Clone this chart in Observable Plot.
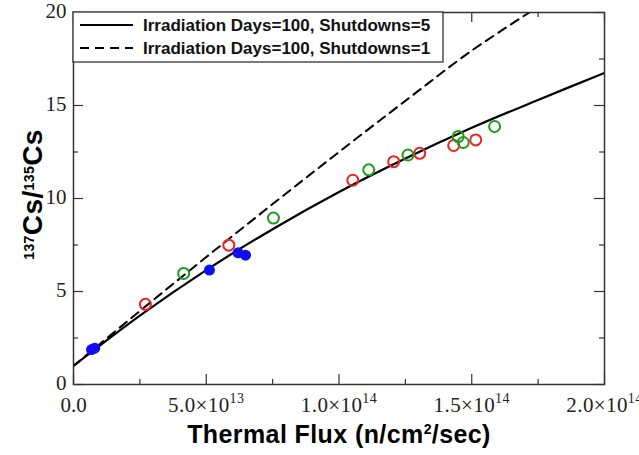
<!DOCTYPE html>
<html>
<head>
<meta charset="utf-8">
<script src="https://cdn.jsdelivr.net/npm/d3@7"></script>
<script src="https://cdn.jsdelivr.net/npm/@observablehq/plot@0.6"></script>
<style>
  html, body { margin: 0; padding: 0; background: #fff; }
  #chart { width: 639px; height: 455px; }
</style>
</head>
<body>
<div id="chart"></div>
<script>
// ---- Data ----
// Model curves (x in n/cm^2/sec, y = 137Cs/135Cs)
const solidX = [0, 2.5e13, 5e13, 7.5e13, 1e14, 1.25e14, 1.5e14, 1.75e14, 2e14];
const solidY = [1.0, 3.7, 6.15, 8.35, 10.35, 12.15, 13.8, 15.3, 16.75];
const dashX  = [0, 2.5e13, 5e13, 7.5e13, 1e14, 1.25e14, 1.5e14, 1.717e14];
const dashY  = [1.0, 3.95, 6.85, 9.7, 12.5, 15.25, 17.95, 20.0];

// Measured points
const blueX  = [6.8e12, 8.0e12, 5.12e13, 6.2e13, 6.48e13];
const blueY  = [1.88, 1.95, 6.15, 7.08, 6.95];
const redX   = [2.71e13, 5.85e13, 1.052e14, 1.206e14, 1.304e14, 1.432e14, 1.515e14];
const redY   = [4.31, 7.49, 10.98, 11.98, 12.43, 12.85, 13.15];
const greenX = [4.15e13, 7.53e13, 1.112e14, 1.26e14, 1.449e14, 1.468e14, 1.586e14];
const greenY = [5.97, 8.95, 11.54, 12.34, 13.33, 13.01, 13.87];

// Ticks and labels
const xMajor = [0, 5e13, 1e14, 1.5e14, 2e14];
const xMinor = [2.5e13, 7.5e13, 1.25e14, 1.75e14];
const xTickLabels = ["0.0", "5.0×10^13", "1.0×10^14", "1.5×10^14", "2.0×10^14"];
const yMajor = [0, 5, 10, 15, 20];
const yMinor = [2.5, 7.5, 12.5, 17.5];
const yTickLabels = ["0", "5", "10", "15", "20"];

const legendLabels = ["Irradiation Days=100, Shutdowns=5", "Irradiation Days=100, Shutdowns=1"];
const xTitle = "Thermal Flux (n/cm^2/sec)";
const yTitle = "^137Cs/^135Cs";

// ---- Build tables ----
const zip = (xs, ys) => xs.map((x, i) => ({x, y: ys[i]}));
const solid = zip(solidX, solidY);
const dashed = zip(dashX, dashY);
const blue = zip(blueX, blueY);
const red = zip(redX, redY);
const green = zip(greenX, greenY);
const xLab = xMajor.map((x, i) => ({x, t: xTickLabels[i]}));
const yLab = yMajor.map((y, i) => ({y, t: yTickLabels[i]}));

const serif = "Liberation Serif, Times New Roman, serif";
const sans = "Liberation Sans, Arial, Helvetica, sans-serif";
const axisCol = "#333";
const x0 = 0, x1 = 2e14, y0 = 0, y1 = 20;
const tickStyle = {stroke: axisCol, strokeWidth: 1.2};

const chart = Plot.plot({
  width: 639,
  height: 455,
  marginLeft: 73,
  marginRight: 35,
  marginTop: 12,
  marginBottom: 71,
  style: {background: "#fff", overflow: "visible"},
  x: {domain: [x0, x1], axis: null},
  y: {domain: [y0, y1], axis: null},
  marks: [
    // inward ticks on all four sides (zero-length rules extended by negative insets)
    Plot.ruleX(xMajor, {x: d => d, y1: y0, y2: y0, insetTop: -10, ...tickStyle}),
    Plot.ruleX(xMinor, {x: d => d, y1: y0, y2: y0, insetTop: -5, ...tickStyle}),
    Plot.ruleX(xMajor, {x: d => d, y1: y1, y2: y1, insetBottom: -10, ...tickStyle}),
    Plot.ruleX(xMinor, {x: d => d, y1: y1, y2: y1, insetBottom: -5, ...tickStyle}),
    Plot.ruleY(yMajor, {y: d => d, x1: x0, x2: x0, insetRight: -10, ...tickStyle}),
    Plot.ruleY(yMinor, {y: d => d, x1: x0, x2: x0, insetRight: -5, ...tickStyle}),
    Plot.ruleY(yMajor, {y: d => d, x1: x1, x2: x1, insetLeft: -10, ...tickStyle}),
    Plot.ruleY(yMinor, {y: d => d, x1: x1, x2: x1, insetLeft: -5, ...tickStyle}),
    // curves
    Plot.line(dashed, {x: "x", y: "y", curve: "catmull-rom", stroke: "#000", strokeWidth: 2, strokeDasharray: "9,6", clip: true}),
    Plot.line(solid, {x: "x", y: "y", curve: "catmull-rom", stroke: "#000", strokeWidth: 2.2, clip: true}),
    // points
    Plot.dot(red, {x: "x", y: "y", r: 5.5, stroke: "#ee2222", strokeWidth: 2, fill: "none"}),
    Plot.dot(green, {x: "x", y: "y", r: 5.5, stroke: "#1f9a1f", strokeWidth: 2, fill: "none"}),
    Plot.dot(blue, {x: "x", y: "y", r: 5.5, fill: "#1010ee", stroke: "none"}),
    // frame
    Plot.frame({stroke: axisCol, strokeWidth: 1.5}),
    // tick labels
    Plot.text(xLab, {x: "x", y: y0, text: "t", dy: 21, fontFamily: serif, fontSize: 21, fill: "#222", textAnchor: "middle"}),
    Plot.text(yLab, {x: x0, y: "y", text: "t", dx: -7, dy: -1, fontFamily: serif, fontSize: 21, fill: "#222", textAnchor: "end"}),
    // axis titles
    Plot.text([xTitle], {frameAnchor: "bottom", text: d => d, dy: 58, fontFamily: sans, fontWeight: "bold", fontSize: 25, fill: "#000", textAnchor: "middle"}),
    Plot.text([yTitle], {frameAnchor: "left", text: d => d, dx: -40, dy: -4, rotate: -90, fontFamily: sans, fontWeight: "bold", fontSize: 28, fill: "#000", textAnchor: "middle"})
  ]
});

const svg = d3.select(chart.tagName.toLowerCase() === "svg" ? chart : chart.querySelector("svg"));

// Turn "^" markers into real superscript tspans
svg.selectAll("text").each(function () {
  const el = d3.select(this);
  const s = this.textContent;
  if (!s.includes("^")) return;
  const fs = parseFloat(el.attr("font-size") || getComputedStyle(this).fontSize) || 21;
  const isTick = el.attr("font-family") && el.attr("font-family").includes("Serif");
  const supSize = isTick ? Math.round(fs * 0.62) : Math.round(fs * 0.68);
  const rise = isTick ? fs * 0.55 : fs * 0.42;
  const parts = s.split(/(\^\d+)/).filter(p => p !== "");
  el.text(null);
  if (!isTick) el.attr("letter-spacing", 0.4);
  let raised = false;
  parts.forEach(p => {
    const t = el.append("tspan");
    if (p.startsWith("^")) {
      t.text(p.slice(1)).attr("font-size", supSize).attr("dy", raised ? 0 : -rise);
      raised = true;
    } else {
      t.text(p);
      if (raised) { t.attr("dy", rise); raised = false; }
    }
  });
});

// Legend box (layout only, inside the plot frame)
const L = 73, T = 12;
const leg = svg.append("g");
leg.append("rect").attr("x", L).attr("y", T).attr("width", 370).attr("height", 50)
  .attr("fill", "#fff").attr("stroke", "#222").attr("stroke-width", 1.2);
const rows = [{dash: null, y: T + 13}, {dash: "9,6", y: T + 36}];
rows.forEach((r, i) => {
  leg.append("line").attr("x1", L + 7).attr("x2", L + 60).attr("y1", r.y).attr("y2", r.y)
    .attr("stroke", "#000").attr("stroke-width", 2).attr("stroke-dasharray", r.dash);
  leg.append("text").attr("x", L + 70).attr("y", r.y).attr("dy", "0.36em")
    .attr("text-anchor", "start")
    .attr("font-family", sans).attr("font-weight", "bold").attr("font-size", 17)
    .attr("fill", "#111").text(legendLabels[i]);
});

document.getElementById("chart").appendChild(chart);
</script>
</body>
</html>
